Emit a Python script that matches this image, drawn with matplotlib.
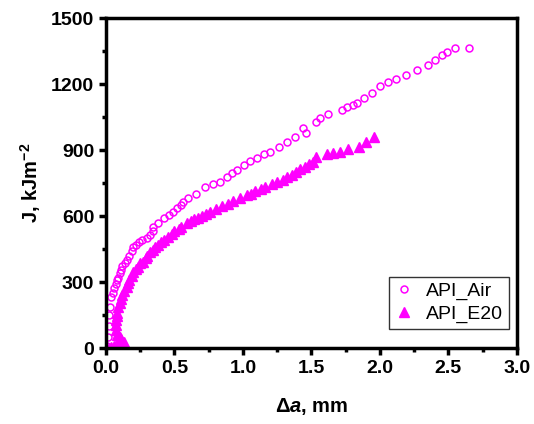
import matplotlib
matplotlib.use("Agg")
import matplotlib.pyplot as plt
from matplotlib.ticker import MultipleLocator, FormatStrFormatter

# crack extension (mm) and J (kJ/m^2)
air_da = [0.01, 0.015, 0.02, 0.025, 0.03, 0.04, 0.05, 0.06, 0.07, 0.08, 0.09,
          0.10, 0.11, 0.12, 0.14, 0.15, 0.17, 0.19, 0.20, 0.22, 0.24, 0.26,
          0.30, 0.32, 0.34, 0.34, 0.38, 0.42, 0.46, 0.49, 0.52, 0.55, 0.56,
          0.60, 0.66, 0.72, 0.78, 0.83, 0.88, 0.92, 0.96, 1.01, 1.05, 1.10,
          1.15, 1.20, 1.26, 1.32, 1.38, 1.44, 1.46, 1.53, 1.56, 1.62, 1.72,
          1.76, 1.80, 1.83, 1.88, 1.94, 2.00, 2.06, 2.12, 2.19, 2.27, 2.35,
          2.40, 2.45, 2.49, 2.55, 2.65]
air_j = [10, 50, 100, 150, 186, 230, 250, 273, 290, 309, 320,
         340, 355, 375, 385, 400, 420, 440, 461, 470, 480, 491,
         500, 514, 530, 550, 570, 591, 605, 618, 635, 650, 664,
         680, 700, 730, 745, 755, 778, 795, 810, 830, 850, 865,
         880, 892, 915, 938, 960, 1000, 978, 1027, 1045, 1065, 1082,
         1095, 1105, 1113, 1135, 1160, 1190, 1210, 1222, 1240, 1265, 1285,
         1310, 1330, 1345, 1362, 1362]

e20_da = [0.02, 0.04, 0.06, 0.09, 0.12, 0.13, 0.11, 0.10, 0.08, 0.07, 0.07,
          0.07, 0.08, 0.08, 0.09, 0.10, 0.11, 0.12, 0.13, 0.15, 0.16, 0.17,
          0.19, 0.20, 0.22, 0.23, 0.25, 0.27, 0.29, 0.30, 0.32, 0.34, 0.36,
          0.38, 0.40, 0.42, 0.45, 0.48, 0.50, 0.53, 0.55, 0.59, 0.62, 0.64,
          0.67, 0.70, 0.73, 0.76, 0.80, 0.85, 0.89, 0.93, 0.98, 1.03, 1.06,
          1.09, 1.13, 1.16, 1.21, 1.25, 1.29, 1.32, 1.36, 1.39, 1.42, 1.45,
          1.48, 1.51, 1.53, 1.61, 1.66, 1.71, 1.77, 1.85, 1.90, 1.96]
e20_j = [0, 3, 8, 12, 20, 30, 40, 50, 60, 82, 105,
         127, 145, 160, 185, 205, 225, 240, 260, 277, 295, 310,
         328, 345, 360, 370, 385, 391, 410, 420, 435, 445, 458,
         470, 480, 490, 505, 520, 530, 542, 550, 568, 576, 585,
         592, 600, 610, 618, 630, 645, 655, 668, 680, 695, 702,
         712, 722, 732, 745, 755, 765, 777, 788, 800, 812, 823,
         835, 845, 870, 882, 885, 892, 905, 915, 938, 960]

plt.rcParams.update({
    "font.family": ["Liberation Sans", "DejaVu Sans"],
    "font.size": 14,
    "font.weight": "bold",
    "axes.linewidth": 2.5,
    "mathtext.fontset": "custom",
    "mathtext.rm": "Liberation Sans:bold",
    "mathtext.bf": "Liberation Sans:bold",
    "mathtext.it": "Liberation Sans:bold:italic",
})

MAGENTA = "#FF00FF"

fig = plt.figure(figsize=(5.34, 4.24), dpi=100)
ax = fig.add_axes([0.1985, 0.179, 0.7695, 0.7785])

ax.plot(air_da, air_j, linestyle="none", marker="o", markersize=5,
        markerfacecolor="none", markeredgecolor=MAGENTA, markeredgewidth=1.1,
        label="API_Air")
ax.plot(e20_da, e20_j, linestyle="none", marker="^", markersize=6.5,
        color=MAGENTA, label="API_E20")

ax.set_xlim(0, 3.0)
ax.set_ylim(0, 1500)
ax.xaxis.set_major_locator(MultipleLocator(0.5))
ax.xaxis.set_minor_locator(MultipleLocator(0.25))
ax.yaxis.set_major_locator(MultipleLocator(300))
ax.yaxis.set_minor_locator(MultipleLocator(150))
ax.xaxis.set_major_formatter(FormatStrFormatter("%.1f"))
ax.tick_params(which="major", direction="out", length=5, width=2.5,
               labelsize=14, top=False, right=False)
ax.tick_params(which="minor", direction="out", length=3, width=2.5,
               top=False, right=False)
for lbl in ax.get_xticklabels() + ax.get_yticklabels():
    lbl.set_fontweight("bold")

ax.set_xlabel(r"$\Delta\mathit{a}$, mm", fontsize=14.5, fontweight="bold",
              labelpad=14)
ax.set_ylabel(r"J, kJm$^{-2}$", fontsize=14.5, fontweight="bold", labelpad=6)

leg = ax.legend(loc="lower right", bbox_to_anchor=(0.98, 0.058),
                borderaxespad=0, frameon=True, fancybox=False,
                edgecolor="black", prop={"size": 14, "weight": "normal"},
                handlelength=1.0, handletextpad=0.6, borderpad=0.3,
                labelspacing=0.25)
leg.get_frame().set_linewidth(1.0)

fig.savefig("out.png", dpi=100)
